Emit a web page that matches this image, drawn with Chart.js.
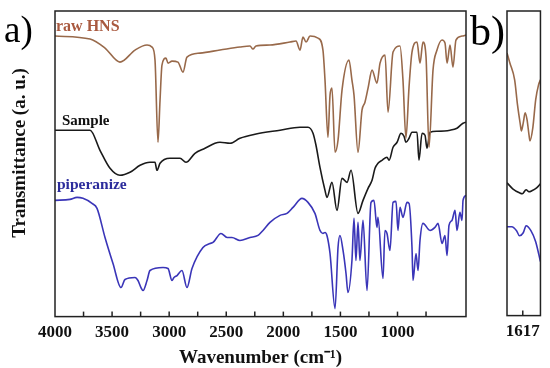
<!DOCTYPE html>
<html>
<head>
<meta charset="utf-8">
<script src="https://cdn.jsdelivr.net/npm/chart.js@4.4.1/dist/chart.umd.min.js"></script>
<style>
  body { margin: 0; background: #fff; }
  #wrap { position: relative; width: 550px; height: 368px; font-family: "Liberation Serif", serif; }
  .box { position: absolute; top: 0; height: 368px; }
  .lbl { position: absolute; line-height: 1; font-weight: bold; white-space: nowrap; }
  #ytitle { left: 18px; top: 153px; font-size: 19px; color: #111; transform: translate(-50%, -50%) rotate(-90deg); }
</style>
</head>
<body>
<div id="wrap">
  <div class="box" style="left:0;width:490px"><canvas id="main"></canvas></div>
  <div class="box" style="left:490px;width:60px"><canvas id="zoom"></canvas></div>
  <div class="lbl" style="left:4px;top:11px;font-size:37px;font-weight:normal">a)</div>
  <div class="lbl" style="left:470px;top:10px;font-size:42px;font-weight:normal">b)</div>
  <div class="lbl" id="ytitle">Transmittance (a. u.)</div>
  <div class="lbl" style="left:56px;top:18px;font-size:16px;color:#a9593f">raw HNS</div>
  <div class="lbl" style="left:62px;top:113px;font-size:15px;color:#111">Sample</div>
  <div class="lbl" style="left:57px;top:176px;font-size:15.5px;color:#2c2c9c">piperanize</div>
</div>
<script>
// full spectra, wavenumber (cm-1) and transmittance (arbitrary, offset per curve)
const wnHNS = [4000,3693,3562,3431,3299,3194,3150,3124,3098,3080,3063,3028,3010,2975,2923,2879,2844,2730,2555,2380,2292,2266,2239,2117,1942,1889,1854,1828,1801,1766,1696,1653,1635,1609,1591,1574,1547,1521,1486,1425,1399,1381,1346,1311,1285,1258,1223,1180,1153,1109,1083,1039,978,952,926,899,873,829,803,777,750,724,689,654,610,584,566,540,514,488,435,400];
const tHNS = [280,277,268,254,266,271,269,256,174,216,251,258,253,255,254,244,259,263,266,269,270,267,270,271,274,275,266,279,274,280,278,266,236,179,221,228,164,176,226,256,236,221,164,206,214,228,246,233,253,261,204,264,270,236,178,229,264,274,253,274,259,169,246,266,276,273,253,271,249,276,280,281];

const wnSample = [4000,3693,3606,3518,3431,3343,3255,3168,3124,3107,3080,2993,2905,2853,2774,2686,2599,2555,2467,2380,2248,2029,1854,1784,1740,1714,1679,1635,1618,1574,1530,1486,1442,1407,1346,1302,1258,1223,1197,1171,1136,1092,1074,1039,1004,969,943,926,899,873,829,812,785,759,742,715,654,540,479,426,400];
const tSample = [186,186,166,148,141,144,151,154,154,146,153,158,158,154,163,168,173,174,173,178,182,186,189,189,183,171,149,126,119,134,106,138,134,146,103,116,128,136,148,153,156,159,156,169,174,183,180,174,178,184,184,156,183,181,168,184,185,186,188,193,194];

const wnPip = [4000,3869,3807,3755,3676,3632,3562,3492,3422,3387,3299,3273,3247,3229,3194,3168,3054,3010,2975,2958,2931,2888,2844,2800,2704,2642,2616,2546,2493,2450,2380,2292,2222,2178,2117,2029,1968,1915,1837,1784,1723,1679,1653,1635,1618,1591,1547,1521,1504,1477,1451,1434,1399,1381,1364,1346,1329,1302,1267,1232,1206,1180,1171,1127,1110,1092,1066,1039,1013,996,978,952,917,899,873,864,838,820,803,777,715,672,645,610,584,566,549,523,496,479,453,435,426,400];
const tPip = [116,117,119,118,113,108,79,53,29,37,39,36,29,26,36,46,49,48,36,39,41,46,29,48,69,73,74,83,79,79,76,79,81,86,94,101,103,109,118,114,103,86,83,84,81,63,8,69,81,66,43,24,56,98,56,94,56,96,26,114,116,89,99,38,86,83,66,114,115,86,109,99,114,113,69,36,63,46,76,93,86,89,93,73,81,61,91,96,106,86,104,96,116,121];

// expanded view around 1617 cm-1
const wnHNSb = [1650,1644,1634,1628,1622,1620,1616,1612,1608,1604,1602,1596,1590,1584,1580];
const tHNSb = [263,253,236,211,191,185,193,203,196,181,175,188,216,231,236];
const wnSampleb = [1650,1638,1624,1618,1610,1604,1598,1588,1580];
const tSampleb = [133,127,123,122,126,124,125,128,132];
const wnPipb = [1650,1640,1630,1624,1616,1610,1600,1590,1580];
const tPipb = [89,89,85,80,83,90,85,74,54];

const bTicks = [1617];

const colHNS = "#98694a";
const colSample = "#1a1a1a";
const colPip = "#3a35b8";

const pts = (xs, ys) => xs.map((x, i) => ({ x: x, y: ys[i] }));
const ds = (xs, ys, c) => ({
    data: pts(xs, ys),
    borderColor: c,
    borderWidth: 1.6,
    pointRadius: 0,
    cubicInterpolationMode: "monotone"
});

// box round the plot area plus inward tick marks
const frame = {
    id: "frame",
    afterDraw(chart) {
        const { ctx, chartArea: a, scales: { x } } = chart;
        ctx.save();
        ctx.strokeStyle = "#222";
        ctx.lineWidth = 1.5;
        ctx.strokeRect(a.left, a.top, a.right - a.left, a.bottom - a.top);
        x.ticks.forEach(t => {
            if (t.value === x.min || t.value === x.max) return;
            const px = x.getPixelForValue(t.value);
            ctx.beginPath();
            ctx.moveTo(px, a.bottom);
            ctx.lineTo(px, a.bottom - 5);
            ctx.stroke();
        });
        ctx.restore();
    }
};

const tickFont = { family: "Liberation Serif", size: 17, weight: "bold" };
const titleFont = { family: "Liberation Serif", size: 19, weight: "bold", lineHeight: 1 };

new Chart(document.getElementById("main"), {
    type: "line",
    data: {
        datasets: [
            ds(wnHNS, tHNS, colHNS),
            ds(wnSample, tSample, colSample),
            ds(wnPip, tPip, colPip)
        ]
    },
    options: {
        responsive: true,
        maintainAspectRatio: false,
        animation: false,
        layout: { padding: { left: 55, right: 24, top: 11, bottom: 0 } },
        plugins: { legend: { display: false }, tooltip: { enabled: false } },
        scales: {
            x: {
                type: "linear",
                min: 400,
                max: 4000,
                reverse: true,
                grid: { display: false, drawTicks: false },
                border: { display: false },
                ticks: {
                    stepSize: 250,
                    autoSkip: false,
                    maxRotation: 0,
                    padding: 6,
                    color: "#111",
                    font: tickFont,
                    callback: v => (v % 500 === 0 ? String(v) : "")
                },
                title: {
                    display: true,
                    text: "Wavenumber (cm\u207B\u00B9)",
                    color: "#111",
                    font: titleFont,
                    padding: { top: 0, bottom: 0 }
                }
            },
            y: { display: false, min: 0, max: 305 }
        }
    },
    plugins: [frame]
});

new Chart(document.getElementById("zoom"), {
    type: "line",
    data: {
        datasets: [
            ds(wnHNSb, tHNSb, colHNS),
            ds(wnSampleb, tSampleb, colSample),
            ds(wnPipb, tPipb, colPip)
        ]
    },
    options: {
        responsive: true,
        maintainAspectRatio: false,
        animation: false,
        layout: { padding: { left: 17, right: 8, top: 11, bottom: 20 } },
        plugins: { legend: { display: false }, tooltip: { enabled: false } },
        scales: {
            x: {
                type: "linear",
                min: 1580,
                max: 1650,
                reverse: true,
                afterBuildTicks: s => { s.ticks = bTicks.map(v => ({ value: v })); },
                grid: { display: false, drawTicks: false },
                border: { display: false },
                ticks: {
                    autoSkip: false,
                    maxRotation: 0,
                    padding: 6,
                    color: "#111",
                    font: tickFont,
                    callback: v => String(v)
                }
            },
            y: { display: false, min: 0, max: 305 }
        }
    },
    plugins: [frame]
});
</script>
</body>
</html>
